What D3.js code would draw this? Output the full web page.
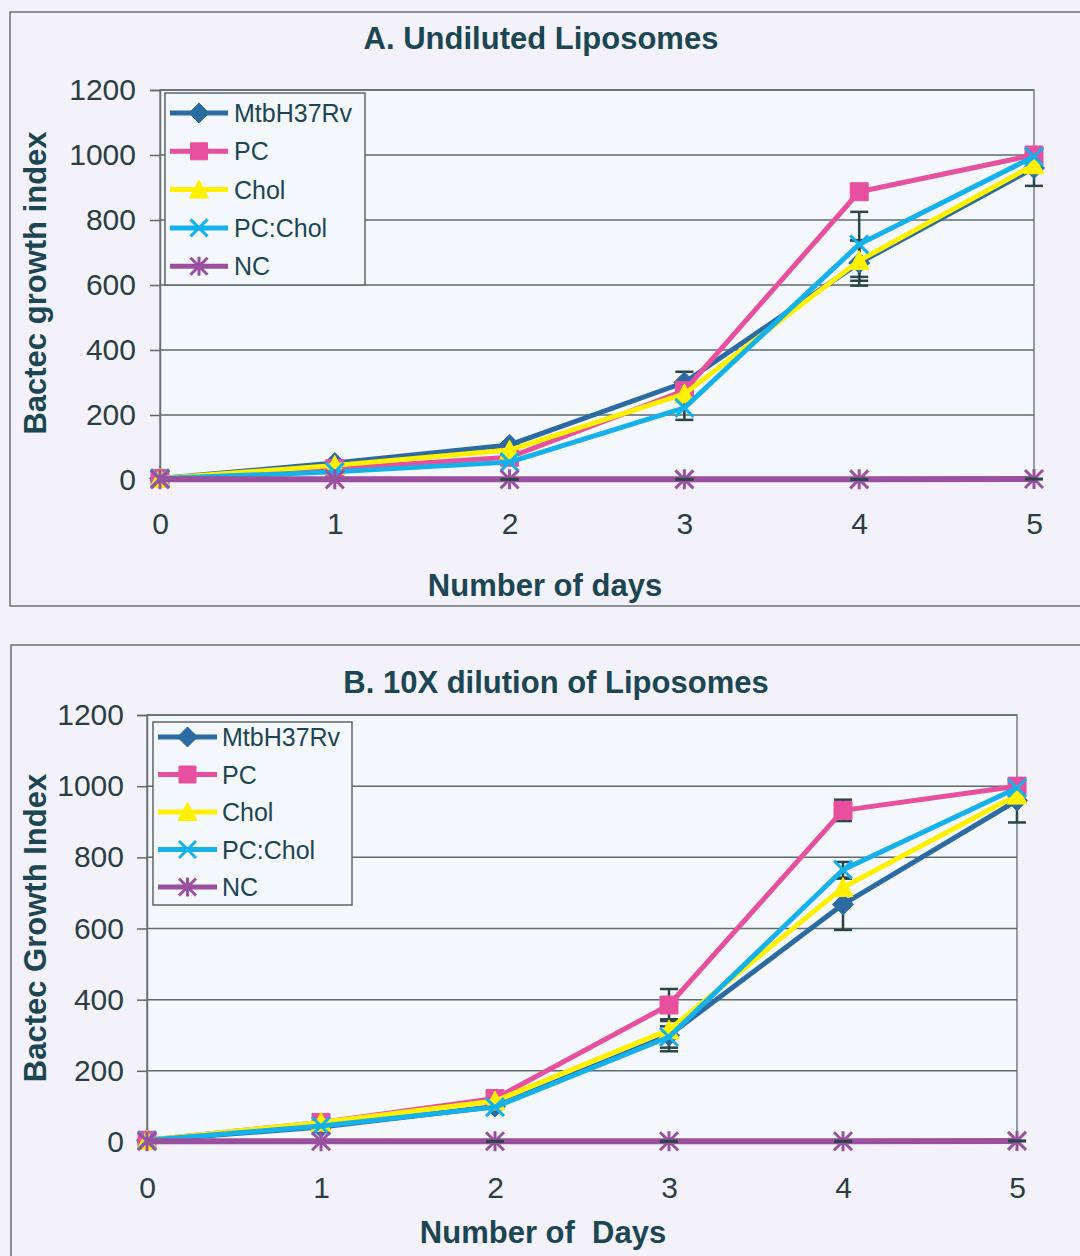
<!DOCTYPE html>
<html><head><meta charset="utf-8">
<script src="https://cdn.jsdelivr.net/npm/d3@7"></script>
<style>
html,body{margin:0;padding:0;background:#f3f2fa;}
svg{display:block;font-family:"Liberation Sans",Arial,sans-serif;}
</style></head><body>
<svg id="chart" width="1080" height="1256"></svg>
<script>
// ---- data ----
const days = [0, 1, 2, 3, 4, 5];
const seriesNames = ["MtbH37Rv", "PC", "Chol", "PC:Chol", "NC"];
const yTicks = [0, 200, 400, 600, 800, 1000, 1200];

// Panel A: undiluted liposomes (Bactec growth index per day)
const aMtb    = [5, 52, 108, 300, 668, 960];
const aPC     = [5, 35, 70, 275, 887, 1000];
const aChol   = [5, 45, 92, 265, 675, 970];
const aPCChol = [5, 25, 55, 222, 725, 995];
const aNC     = [2, 2, 2, 2, 2, 3];
// symmetric error bar half-widths
const aMtbErr    = [0, 0, 0, 33, 70, 55];
const aPCErr     = [0, 0, 0, 0, 0, 0];
const aCholErr   = [0, 0, 0, 0, 62, 0];
const aPCCholErr = [0, 0, 0, 37, 100, 0];
const aNCErr     = [0, 0, 1, 1, 1, 1];

// Panel B: 10X dilution of liposomes
const bMtb    = [5, 42, 100, 300, 668, 960];
const bPC     = [5, 55, 122, 385, 932, 1000];
const bChol   = [5, 55, 115, 315, 715, 975];
const bPCChol = [5, 45, 98, 295, 765, 995];
const bNC     = [2, 2, 2, 2, 2, 3];
const bMtbErr    = [0, 0, 0, 45, 72, 62];
const bPCErr     = [0, 0, 0, 45, 30, 0];
const bCholErr   = [0, 0, 0, 0, 0, 0];
const bPCCholErr = [0, 0, 0, 30, 22, 0];
const bNCErr     = [0, 0, 1, 1, 1, 1];

// ---- styles ----
const colors  = ["#2c6aa2", "#e6509f", "#fff000", "#14b1ea", "#9a509f"];
const symbols = ["diamond", "square", "triangle", "x", "asterisk"];
const textColor = "#1b4652";
const tickColor = "#2a3e44";
const gridColor = "#5d6b6b";
const errColor  = "#2a4648";

function markerPath(kind, s) {
  const h = s / 2;
  switch (kind) {
    case "diamond":  return `M0,${-h-1.5}L${h+1.5},0L0,${h+1.5}L${-h-1.5},0Z`;
    case "square":   return `M${-h},${-h}H${h}V${h}H${-h}Z`;
    case "triangle": return `M0,${-h-1}L${h+1},${h}L${-h-1},${h}Z`;
    case "x":        return `M${-h},${-h}L${h},${h}M${h},${-h}L${-h},${h}`;
    case "asterisk": return `M${-h},${-h}L${h},${h}M${h},${-h}L${-h},${h}M0,${-h-1}V${h+1}`;
  }
}
function isStroke(kind) { return kind === "x" || kind === "asterisk"; }

const svg = d3.select("#chart");

function drawErrors(g, x, y, vals, errs) {
  const eg = g.append("g").attr("stroke", errColor).attr("stroke-width", 2.5);
  errs.forEach((e, i) => {
    if (!e) return;
    const cx = x(days[i]);
    const y1 = y(vals[i] + e), y2 = y(vals[i] - e);
    eg.append("line").attr("x1", cx).attr("x2", cx).attr("y1", y1).attr("y2", y2);
    eg.append("line").attr("x1", cx - 9).attr("x2", cx + 9).attr("y1", y1).attr("y2", y1);
    eg.append("line").attr("x1", cx - 9).attr("x2", cx + 9).attr("y1", y2).attr("y2", y2);
  });
}

function drawPanel(cfg) {
  const g = svg.append("g");
  const x = d3.scaleLinear().domain([0, 5]).range([cfg.plot.l, cfg.plot.r]);
  const y = d3.scaleLinear().domain([0, 1200]).range([cfg.plot.b, cfg.plot.t]);

  // outer chart frame
  g.append("rect")
    .attr("x", cfg.frame.x).attr("y", cfg.frame.y)
    .attr("width", cfg.frame.w).attr("height", cfg.frame.h)
    .attr("fill", "#f3f2fa").attr("stroke", "#6b7172").attr("stroke-width", 1.5);

  // plot area
  g.append("rect")
    .attr("x", cfg.plot.l).attr("y", cfg.plot.t)
    .attr("width", cfg.plot.r - cfg.plot.l).attr("height", cfg.plot.b - cfg.plot.t)
    .attr("fill", "#f4f7fc").attr("stroke", "#777d7e").attr("stroke-width", 1.5);

  // horizontal gridlines
  g.append("g").selectAll("line").data(yTicks.filter(v => v > 0)).join("line")
    .attr("x1", cfg.plot.l).attr("x2", cfg.plot.r)
    .attr("y1", d => y(d)).attr("y2", d => y(d))
    .attr("stroke", gridColor).attr("stroke-width", 1.5);

  // y axis
  const yAxis = g.append("g").attr("transform", `translate(${cfg.plot.l},0)`)
    .call(d3.axisLeft(y).tickValues(yTicks).tickFormat(d3.format("d"))
      .tickSize(10).tickPadding(cfg.yPad));
  yAxis.select(".domain").attr("stroke", "#6b7172").attr("stroke-width", 1.5);
  yAxis.selectAll(".tick line").attr("stroke", gridColor).attr("stroke-width", 1.5);
  yAxis.selectAll(".tick text").attr("fill", tickColor)
    .style("font-size", "30px").style("font-family", "Liberation Sans, Arial, sans-serif");

  // x axis (category labels only)
  const xAxis = g.append("g").attr("transform", `translate(0,${cfg.plot.b})`)
    .call(d3.axisBottom(x).tickValues(days).tickFormat(d3.format("d"))
      .tickSize(0).tickPadding(cfg.xPad));
  xAxis.select(".domain").remove();
  xAxis.selectAll(".tick text").attr("fill", tickColor)
    .style("font-size", "30px").style("font-family", "Liberation Sans, Arial, sans-serif");

  // titles
  const titleStyle = sel => sel.attr("fill", textColor).attr("text-anchor", "middle")
    .style("font-size", "31px").style("font-weight", "bold").style("white-space", "pre");
  g.append("text").attr("x", cfg.titleX).attr("y", cfg.titleY).call(titleStyle).text(cfg.title);
  g.append("text").attr("x", cfg.xTitleX).attr("y", cfg.xTitleY).call(titleStyle)
    .attr("xml:space", "preserve").text(cfg.xTitle);
  g.append("text")
    .attr("transform", `translate(${cfg.yTitleX},${cfg.yTitleCY}) rotate(-90)`)
    .call(titleStyle).text(cfg.yTitle);

  // error bars of the growth series sit beneath the lines and markers
  cfg.errors.forEach((errs, si) => { if (si < 4) drawErrors(g, x, y, cfg.series[si], errs); });

  // series: line then markers, in legend order
  const line = d3.line().x((d, i) => x(days[i])).y(d => y(d));
  cfg.series.forEach((vals, si) => {
    const sg = g.append("g");
    sg.append("path").attr("d", line(vals)).attr("fill", "none")
      .attr("stroke", colors[si]).attr("stroke-width", si === 4 ? 6 : 5)
      .attr("stroke-linejoin", "round");
    const kind = symbols[si];
    sg.selectAll("path.mk").data(vals).join("path").attr("class", "mk")
      .attr("transform", (d, i) => `translate(${x(days[i])},${y(d)})`)
      .attr("d", markerPath(kind, 18))
      .attr("fill", isStroke(kind) ? "none" : colors[si])
      .attr("stroke", colors[si]).attr("stroke-width", isStroke(kind) ? 3 : 1);
  });

  // NC error bars (near zero) show on top of its line
  drawErrors(g, x, y, cfg.series[4], cfg.errors[4]);

  // legend
  const L = cfg.legend;
  const lg = g.append("g");
  lg.append("rect").attr("x", L.x).attr("y", L.y).attr("width", L.w).attr("height", L.h)
    .attr("fill", "#f4f7fc").attr("stroke", "#5f6667").attr("stroke-width", 1.5);
  seriesNames.forEach((name, si) => {
    const cy = L.row0 + si * L.step;
    lg.append("line").attr("x1", L.lx1).attr("x2", L.lx2).attr("y1", cy).attr("y2", cy)
      .attr("stroke", colors[si]).attr("stroke-width", 5);
    const kind = symbols[si];
    lg.append("path").attr("transform", `translate(${(L.lx1 + L.lx2) / 2},${cy})`)
      .attr("d", markerPath(kind, 17))
      .attr("fill", isStroke(kind) ? "none" : colors[si])
      .attr("stroke", colors[si]).attr("stroke-width", isStroke(kind) ? 3 : 1);
    lg.append("text").attr("x", L.tx).attr("y", cy + 9).attr("fill", textColor)
      .style("font-size", "25px").text(name);
  });
}

drawPanel({
  frame: { x: 10, y: 12, w: 1100, h: 594 },
  plot: { l: 160, r: 1034, t: 90, b: 480 },
  yPad: 14, xPad: 33,
  title: "A. Undiluted Liposomes", titleX: 541, titleY: 49,
  xTitle: "Number of days", xTitleX: 545, xTitleY: 596,
  yTitle: "Bactec growth index", yTitleX: 46, yTitleCY: 283,
  series: [aMtb, aPC, aChol, aPCChol, aNC],
  errors: [aMtbErr, aPCErr, aCholErr, aPCCholErr, aNCErr],
  legend: { x: 165, y: 93, w: 200, h: 192, row0: 113, step: 38.3, lx1: 170, lx2: 228, tx: 234 }
});

drawPanel({
  frame: { x: 11, y: 645, w: 1100, h: 700 },
  plot: { l: 147, r: 1017, t: 715, b: 1142 },
  yPad: 13, xPad: 35,
  title: "B. 10X dilution of Liposomes", titleX: 556, titleY: 693,
  xTitle: "Number of  Days", xTitleX: 543, xTitleY: 1243,
  yTitle: "Bactec Growth Index", yTitleX: 46, yTitleCY: 928,
  series: [bMtb, bPC, bChol, bPCChol, bNC],
  errors: [bMtbErr, bPCErr, bCholErr, bPCCholErr, bNCErr],
  legend: { x: 153, y: 722, w: 199, h: 183, row0: 737, step: 37.5, lx1: 158, lx2: 217, tx: 222 }
});
</script>
</body></html>
